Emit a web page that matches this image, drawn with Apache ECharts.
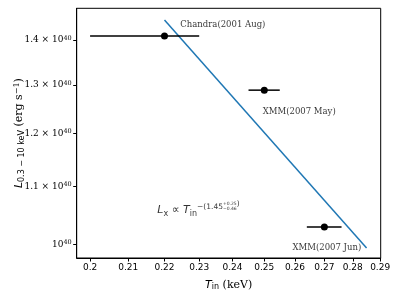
<!DOCTYPE html>
<html><head><meta charset="utf-8">
<script src="https://cdn.jsdelivr.net/npm/echarts@6/dist/echarts.min.js"></script>
<style>html,body{margin:0;padding:0;background:#fff}#c{width:399px;height:299px}</style>
</head><body><div id="c"></div>
<script>
// observations (luminosity in units of 1e40 erg/s)
const obsNames = ['Chandra(2001 Aug)', 'XMM(2007 May)', 'XMM(2007 Jun)'];
const obsT = [0.22, 0.25, 0.27];
const obsTlo = [0.20, 0.245, 0.264];
const obsThi = [0.23, 0.255, 0.276];
const obsL = [1.409, 1.289, 1.029];
// fitted power law line endpoints
const fitT = [0.22, 0.285];
const fitL = [1.447, 0.994];
// annotation anchors
const labelT = [0.2245, 0.2495, 0.2592];
const labelL = [1.435, 1.243, 0.994];
const formulaT = 0.218, formulaL = 1.058;
const stackT = 0.2371;
// ticks
const xTicks = [0.2, 0.21, 0.22, 0.23, 0.24, 0.25, 0.26, 0.27, 0.28, 0.29];
const yTicks = [1.0, 1.1, 1.2, 1.3, 1.4];

const serif = 'DejaVu Serif';
const sans = 'DejaVu Sans';
const chart = echarts.init(document.getElementById('c'));
chart.setOption({
  animation: false,
  grid: {left: 76.7, right: 18.3, top: 8.3, bottom: 41, show: true, borderColor: '#000', borderWidth: 1,
    containLabel: false, outerBoundsMode: 'none'},
  xAxis: {
    type: 'log', logBase: 10, min: 0.1966, max: 0.2902,
    name: '{it|T}{sub|in}{n| (keV)}', nameLocation: 'middle', nameGap: 21, nameMoveOverlap: false,
    nameTextStyle: {rich: {
      it: {fontFamily: sans, fontStyle: 'italic', fontSize: 11, color: '#000'},
      sub: {fontFamily: sans, fontSize: 8, color: '#000', verticalAlign: 'bottom', padding: [4, 0, 0, 0]},
      n: {fontFamily: serif, fontSize: 11, color: '#000'}
    }},
    axisLine: {show: true, onZero: false, lineStyle: {color: '#000', width: 1}},
    axisTick: {show: true, length: 3.5, lineStyle: {color: '#000'}, customValues: xTicks},
    axisLabel: {fontFamily: sans, fontSize: 9, color: '#000', margin: 5, customValues: xTicks,
      formatter: v => String(+v.toFixed(2))},
    splitLine: {show: false}, minorTick: {show: false}
  },
  yAxis: {
    type: 'log', logBase: 10, min: 0.9777, max: 1.475,
    name: '{it|L}{sub|0.3 − 10 keV}{n| (erg s}{sup|−1}{n|)}', nameLocation: 'middle', nameGap: 51, nameRotate: 90,
    nameMoveOverlap: false,
    nameTextStyle: {rich: {
      it: {fontFamily: sans, fontStyle: 'italic', fontSize: 11, color: '#000'},
      sub: {fontFamily: sans, fontSize: 8, color: '#000', verticalAlign: 'bottom', padding: [4, 0, 0, 0]},
      sup: {fontFamily: serif, fontSize: 8, color: '#000', verticalAlign: 'top', padding: [0, 0, 5, 0]},
      n: {fontFamily: serif, fontSize: 11, color: '#000'}
    }},
    axisLine: {show: true, onZero: false, lineStyle: {color: '#000', width: 1}},
    axisTick: {show: true, length: 3.5, lineStyle: {color: '#000'}, customValues: yTicks},
    axisLabel: {color: '#000', margin: 5, customValues: yTicks,
      formatter: v => {
        const m = +v.toFixed(1);
        return m === 1 ? '{b|10}{s|40}' : '{b|' + m.toFixed(1) + ' × 10}{s|40}';
      },
      rich: {
        b: {fontFamily: serif, fontSize: 9, color: '#000'},
        s: {fontFamily: serif, fontSize: 6.5, color: '#000', verticalAlign: 'top', padding: [0, 0, 4, 0]}
      }},
    splitLine: {show: false}, minorTick: {show: false}
  },
  series: [
    {
      type: 'line', data: fitT.map((t, i) => [t, fitL[i]]), symbol: 'none',
      lineStyle: {color: '#1f77b4', width: 1.5}, z: 3, silent: true
    },
    {
      type: 'custom', z: 4, silent: true,
      data: obsT.map((t, i) => [obsTlo[i], obsThi[i], obsL[i]]),
      renderItem: (params, api) => {
        const a = api.coord([api.value(0), api.value(2)]);
        const b = api.coord([api.value(1), api.value(2)]);
        return {type: 'line', shape: {x1: a[0], y1: a[1], x2: b[0], y2: b[1]},
          style: {stroke: '#000', lineWidth: 1.5}};
      },
      encode: {x: [0, 1], y: 2}
    },
    {
      type: 'scatter', z: 5, silent: true, symbolSize: 7,
      itemStyle: {color: '#000', opacity: 1},
      data: obsT.map((t, i) => [t, obsL[i]])
    },
    {
      type: 'scatter', z: 6, silent: true, symbolSize: 0,
      data: labelT.map((t, i) => ({value: [t, labelL[i]], name: obsNames[i]})),
      label: {show: true, position: 'right', distance: 0, formatter: p => p.name,
        fontFamily: serif, fontSize: 8.5, color: '#000'}
    },
    {
      type: 'scatter', z: 6, silent: true, symbolSize: 0,
      data: [[formulaT, formulaL]],
      label: {show: true, position: 'right', distance: 0,
        formatter: '{it|L}{sub|x}{n| ∝ }{it|T}{sub|in}{sup|−(1.45}',
        rich: {
          it: {fontFamily: sans, fontStyle: 'italic', fontSize: 11, color: '#000'},
          n: {fontFamily: sans, fontSize: 11, color: '#000'},
          sub: {fontFamily: sans, fontSize: 8, color: '#000', verticalAlign: 'bottom', padding: [4, 0, 0, 0]},
          sup: {fontFamily: sans, fontSize: 7.5, color: '#000', verticalAlign: 'top', padding: [0, 0, 7, 0]}
        }}
    },
    {
      type: 'scatter', z: 6, silent: true, symbolSize: 0,
      data: [[stackT, formulaL]],
      label: {show: true, position: 'right', distance: 0, offset: [0, -4],
        formatter: '{st|+0.25}{p|)}\n{st|−0.46}{p| }',
        rich: {
          st: {fontFamily: sans, fontSize: 4.5, lineHeight: 5, color: '#000'},
          p: {fontFamily: sans, fontSize: 7.5, lineHeight: 5, color: '#000'}
        }}
    }
  ]
});
</script></body></html>
